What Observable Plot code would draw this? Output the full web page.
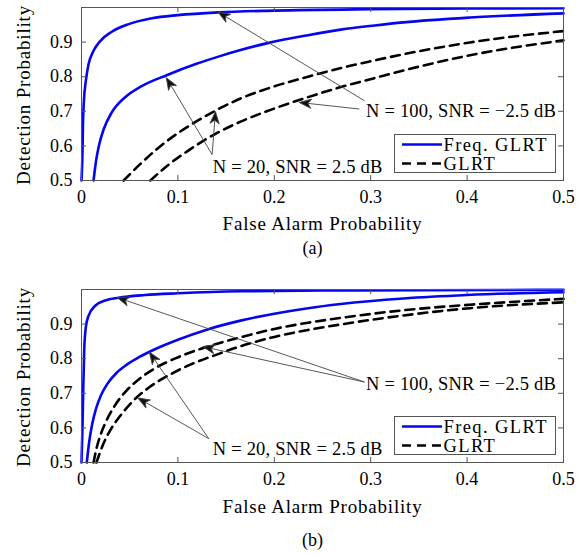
<!DOCTYPE html>
<html>
<head>
<meta charset="utf-8">
<script src="https://cdn.jsdelivr.net/npm/d3@7"></script>
<script src="https://cdn.jsdelivr.net/npm/@observablehq/plot@0.6"></script>
<style>
  body { margin: 0; background: #fff; }
  #wrap { position: relative; width: 586px; height: 555px; font-family: "Liberation Serif", "Times New Roman", serif; }
  .panel { position: absolute; left: 0; }
  .legend { position: absolute; left: 394px; }
</style>
</head>
<body>
<div id="wrap"></div>
<script>
// ---------- shared labels ----------
const xTicks = [0, 0.1, 0.2, 0.3, 0.4, 0.5];
const yTicks = [0.5, 0.6, 0.7, 0.8, 0.9];
const xLabel = "False Alarm Probability";
const yLabel = "Detection Probability";
const seriesNames = ["Freq. GLRT", "GLRT"];
const seriesColors = ["#0505ee", "#000000"];
const seriesDash = [null, "9,6"];
const labelN100 = "N = 100, SNR = \u22122.5 dB";
const labelN20 = "N = 20, SNR = 2.5 dB";
const captions = ["(a)", "(b)"];

// ---------- panel (a) curves: [Pfa, Pd] ----------
const a_freq_N100 = [[0,0.5],[0.001,0.58],[0.0015,0.66],[0.0025,0.73],[0.0045,0.788],[0.0073,0.836],[0.0125,0.875],[0.0194,0.903],[0.0315,0.93],[0.049,0.952],[0.073,0.969],[0.1,0.978],[0.142,0.986],[0.2,0.991],[0.3,0.995],[0.4,0.997],[0.5,0.998]];
const a_freq_N20 = [[0.0125,0.5],[0.015,0.555],[0.018,0.6],[0.023,0.648],[0.031,0.695],[0.045,0.74],[0.062,0.772],[0.089,0.805],[0.12,0.838],[0.142,0.858],[0.165,0.877],[0.193,0.897],[0.235,0.92],[0.269,0.936],[0.304,0.948],[0.334,0.957],[0.403,0.971],[0.5,0.983]];
const a_glrt_N20 = [[0.0437,0.5],[0.06,0.545],[0.08,0.595],[0.1,0.637],[0.12,0.672],[0.139,0.702],[0.165,0.737],[0.2,0.772],[0.235,0.8],[0.269,0.825],[0.304,0.847],[0.334,0.865],[0.403,0.899],[0.5,0.932]];
const a_glrt_N100 = [[0.0714,0.5],[0.09,0.545],[0.11,0.585],[0.139,0.635],[0.165,0.67],[0.2,0.708],[0.235,0.741],[0.269,0.77],[0.304,0.796],[0.334,0.818],[0.403,0.862],[0.5,0.905]];
// annotations (a): [x, y, text] and [x1, y1, x2, y2]
const a_notes = [[0.2952, 0.7, labelN100], [0.1362, 0.54, labelN20]];
const a_arrows = [
  [0.2935, 0.7305, 0.1417, 0.987],
  [0.2883, 0.7066, 0.2259, 0.7256],
  [0.1355, 0.575, 0.088, 0.797],
  [0.1355, 0.575, 0.139, 0.699]
];

// ---------- panel (b) curves ----------
const b_freq_N100 = [[0,0.5],[0.001,0.6],[0.0017,0.7],[0.0028,0.824],[0.0045,0.891],[0.0073,0.924],[0.0142,0.953],[0.0246,0.968],[0.0385,0.976],[0.066,0.984],[0.1,0.989],[0.165,0.995],[0.25,0.997],[0.35,0.998],[0.5,0.999]];
const b_freq_N20 = [[0.0055,0.5],[0.008,0.56],[0.011,0.61],[0.015,0.655],[0.02,0.693],[0.027,0.728],[0.036,0.758],[0.047,0.783],[0.06,0.805],[0.075,0.826],[0.1,0.855],[0.13,0.884],[0.165,0.91],[0.2,0.93],[0.235,0.946],[0.269,0.958],[0.334,0.974],[0.4,0.984],[0.5,0.992]];
const b_glrt_N100 = [[0.0125,0.5],[0.0155,0.54],[0.0198,0.58],[0.0252,0.617],[0.034,0.662],[0.0448,0.702],[0.0593,0.74],[0.0766,0.773],[0.0974,0.801],[0.1286,0.833],[0.165,0.862],[0.2,0.886],[0.235,0.904],[0.269,0.918],[0.334,0.94],[0.403,0.956],[0.5,0.973]];
const b_glrt_N20 = [[0.0155,0.5],[0.0225,0.553],[0.0298,0.593],[0.0405,0.636],[0.0535,0.678],[0.0696,0.716],[0.0904,0.752],[0.1147,0.785],[0.1424,0.814],[0.165,0.836],[0.2,0.863],[0.235,0.883],[0.269,0.899],[0.334,0.925],[0.403,0.946],[0.5,0.963]];
// annotations (b)
const b_notes = [[0.2952, 0.7277, labelN100], [0.1362, 0.54, labelN20]];
const b_arrows = [
  [0.2935, 0.7326, 0.037, 0.977],
  [0.2935, 0.7326, 0.1258, 0.835],
  [0.132, 0.569, 0.0704, 0.819],
  [0.132, 0.569, 0.0585, 0.6865]
];

// ---------- drawing ----------
const FONT = '"Liberation Serif", "Times New Roman", serif';

function arrowHead(color, context) {
  const doc = (context && context.document) || document;
  const ns = "http://www.w3.org/2000/svg";
  const m = doc.createElementNS(ns, "marker");
  m.setAttribute("viewBox", "-13 -6 14 12");
  m.setAttribute("markerWidth", 14);
  m.setAttribute("markerHeight", 12);
  m.setAttribute("markerUnits", "userSpaceOnUse");
  m.setAttribute("refX", 0);
  m.setAttribute("refY", 0);
  m.setAttribute("orient", "auto");
  const p = doc.createElementNS(ns, "path");
  p.setAttribute("d", "M0,0L-12,-4.6L-8.6,0L-12,4.6Z");
  p.setAttribute("fill", "#111");
  m.appendChild(p);
  return m;
}

function panel({curves, notes, arrows, caption, height, marginBottom, xTitleDy, capDy}) {
  const W = 586, ml = 81, mr = 23, mt = 7;
  const fh = height - mt - marginBottom;
  const fw = W - ml - mr;
  const tick = 5;
  const inner = xTicks.slice(1, -1);
  const innerY = yTicks.slice(1);
  const lineMarks = curves.map(([data, k]) =>
    Plot.line(data, {x: d => d[0], y: d => d[1], stroke: seriesColors[k], strokeWidth: 2.6,
      strokeDasharray: seriesDash[k], strokeLinejoin: "round", curve: "monotone-x"}));
  const svg = Plot.plot({
    width: W, height, marginLeft: ml, marginRight: mr, marginTop: mt, marginBottom,
    x: {domain: [0, 0.5]},
    y: {domain: [0.5, 1]},
    style: {fontFamily: FONT, fontSize: "18px", background: "white", color: "black", overflow: "visible"},
    marks: [
      ...lineMarks,
      Plot.link(arrows, {x1: d => d[0], y1: d => d[1], x2: d => d[2], y2: d => d[3],
        stroke: "#444", strokeWidth: 0.9, markerEnd: arrowHead}),
      Plot.text(notes, {x: d => d[0], y: d => d[1], text: d => d[2], textAnchor: "start",
        fontSize: 18.5, fill: "black"}),
      Plot.frame({stroke: "#555"}),
      Plot.ruleX(inner, {x: d => d, insetTop: fh - tick, stroke: "#555"}),
      Plot.ruleX(inner, {x: d => d, insetBottom: fh - tick, stroke: "#555"}),
      Plot.ruleY(innerY, {y: d => d, insetRight: fw - tick, stroke: "#555"}),
      Plot.ruleY(innerY, {y: d => d, insetLeft: fw - tick, stroke: "#555"}),
      Plot.axisX(xTicks, {tickSize: 0, tickPadding: 10, tickFormat: d => String(d), label: null, fontSize: 18}),
      Plot.axisY(yTicks, {tickSize: 0, tickPadding: 9, tickFormat: d => String(d), label: null, fontSize: 18}),
      Plot.text([xLabel], {frameAnchor: "bottom", dy: xTitleDy, text: d => d, textAnchor: "middle",
        lineAnchor: "middle", fontSize: 19}),
      Plot.text([yLabel], {frameAnchor: "left", dx: -57.5, dy: 1, rotate: -90, text: d => d,
        textAnchor: "middle", lineAnchor: "middle", fontSize: 19}),
      Plot.text([caption], {frameAnchor: "bottom", dx: -10, dy: capDy, text: d => d,
        textAnchor: "middle", lineAnchor: "middle", fontSize: 18})
    ]
  });
  const texts = d3.select(svg).selectAll("text");
  texts.filter(function() { return this.textContent === xLabel || this.textContent === yLabel; })
    .attr("letter-spacing", "0.8px");
  texts.filter(function() { return this.textContent === labelN100 || this.textContent === labelN20; })
    .attr("letter-spacing", "0.2px");
  return svg;
}

function legend(top) {
  const w = 162, h = 39;
  const div = document.createElement("div");
  div.className = "legend";
  div.style.top = top + "px";
  const s = d3.create("svg").attr("width", w).attr("height", h).style("display", "block");
  s.append("rect").attr("x", 0.5).attr("y", 0.5).attr("width", w - 1).attr("height", h - 1)
    .attr("fill", "white").attr("stroke", "#555");
  seriesNames.forEach((name, i) => {
    const yy = 10.5 + i * 19;
    s.append("line").attr("x1", 8).attr("x2", 48).attr("y1", yy).attr("y2", yy)
      .attr("stroke", seriesColors[i]).attr("stroke-width", 2.6)
      .attr("stroke-dasharray", seriesDash[i]);
    s.append("text").attr("x", 49.5).attr("y", yy + 6.3).text(name)
      .attr("font-family", FONT).attr("font-size", 18.5).attr("letter-spacing", "1.4px").attr("fill", "black");
  });
  div.appendChild(s.node());
  return div;
}

const wrap = document.getElementById("wrap");

const svgA = panel({
  curves: [[a_freq_N100, 0], [a_freq_N20, 0], [a_glrt_N20, 1], [a_glrt_N100, 1]],
  notes: a_notes, arrows: a_arrows, caption: captions[0],
  height: 282, marginBottom: 102, xTitleDy: 43.5, capDy: 67.5
});
svgA.classList.add("panel"); svgA.style.top = "0px";
wrap.appendChild(svgA);

const svgB = panel({
  curves: [[b_freq_N100, 0], [b_freq_N20, 0], [b_glrt_N100, 1], [b_glrt_N20, 1]],
  notes: b_notes, arrows: b_arrows, caption: captions[1],
  height: 273, marginBottom: 93, xTitleDy: 44, capDy: 78
});
svgB.classList.add("panel"); svgB.style.top = "282px";
wrap.appendChild(svgB);

wrap.appendChild(legend(134));
wrap.appendChild(legend(416));
</script>
</body>
</html>
